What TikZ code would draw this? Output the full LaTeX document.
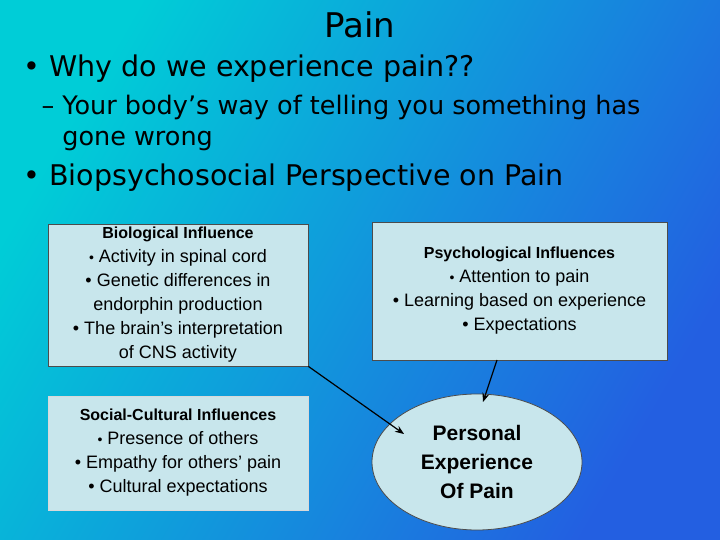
\documentclass[tikz,border=0pt]{standalone}
\usepackage{fontspec}
\setmainfont{DejaVu Sans}
\newfontfamily\arial{Liberation Sans}
\usetikzlibrary{arrows.meta,shapes.geometric}
\definecolor{boxfill}{RGB}{200,230,236}
\definecolor{bgA}{RGB}{0,205,215}
\definecolor{bgB}{RGB}{35,95,225}
\begin{document}
\begin{tikzpicture}[x=1pt,y=-1pt,
  infobox/.style={draw=black!70,fill=boxfill,line width=0.8pt,align=center,inner sep=0pt,font=\arial\fontsize{18}{24}\selectfont},
  conn/.style={-{Stealth[length=9pt,width=7pt]},line width=1.2pt}]
\shade[shading=axis,left color=bgA,right color=bgB,shading angle=60] (0,0) rectangle (720,540);
\useasboundingbox (0,0) rectangle (720,540);
\node (title) at (360,25) {\fontsize{34}{40}\selectfont Pain};
\node[anchor=west] (b1) at (20,69) {\fontsize{28.5}{32}\selectfont • Why do we experience pain??};
\node[anchor=north west,align=left,font=\fontsize{25.5}{31}\selectfont] (s1) at (38,92) {– Your body’s way of telling you something has\\\phantom{– }gone wrong};
\node[anchor=west] (b2) at (20,178) {\fontsize{28.5}{32}\selectfont • Biopsychosocial Perspective on Pain};
\node[infobox,minimum width=260,minimum height=142] (bio) at (178,295) {{\bfseries\fontsize{16}{20}\selectfont Biological Influence}\\{\fontsize{14}{20}\selectfont •} Activity in spinal cord\\• Genetic differences in\\endorphin production\\• The brain’s interpretation\\of CNS activity};
\node[infobox,minimum width=295,minimum height=138] (psy) at (519.5,291) {{\bfseries\fontsize{16}{20}\selectfont Psychological Influences}\\{\fontsize{14}{20}\selectfont •} Attention to pain\\• Learning based on experience\\• Expectations};
\node[infobox,draw=white!85!black,minimum width=260,minimum height=114] (soc) at (178,453) {{\bfseries\fontsize{16}{20}\selectfont Social-Cultural Influences}\\{\fontsize{14}{20}\selectfont •} Presence of others\\• Empathy for others’ pain\\• Cultural expectations};
\node[infobox,ellipse,minimum width=210,minimum height=136,font=\arial\bfseries\fontsize{21}{29}\selectfont] (exp) at (477,462) {Personal\\Experience\\Of Pain};
\draw[conn] (bio.south east) -- (404,434);
\draw[conn] (497,360) -- (483,402);
\end{tikzpicture}
\end{document}
